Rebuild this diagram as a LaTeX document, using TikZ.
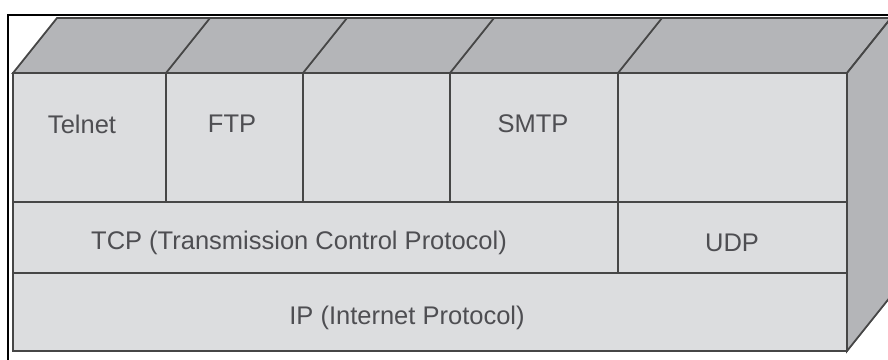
\documentclass[tikz,border=0pt]{standalone}
\usepackage{fontspec}
\setmainfont{Liberation Sans}
\definecolor{frontc}{HTML}{DCDDDF}
\definecolor{sidec}{HTML}{B4B5B8}
\definecolor{edgec}{HTML}{464646}
\definecolor{txtc}{HTML}{4E4E52}
\tikzset{
  edge/.style={draw=edgec, line width=1.8bp, line join=miter},
  lbl/.style={text=txtc, font=\fontsize{25.5bp}{30bp}\selectfont, inner sep=0pt, anchor=center},
  framec/.style={draw=black, line width=2.6bp}
}
\begin{document}
\begin{tikzpicture}[x=1bp,y=-1bp]
\useasboundingbox (0,0) rectangle (888,359);
\begin{scope}
\clip (0,0) rectangle (888,359);
% frame
\draw[framec] (8,400) -- (8,15) -- (950,15);
% top face
\path[edge, fill=sidec] (13,73) -- (57,18) -- (891,18) -- (847,73) -- cycle;
% right face
\path[edge, fill=sidec] (847,73) -- (891,18) -- (891,296) -- (847,351) -- cycle;
% front face
\path[edge, fill=frontc] (13,73) rectangle (847,351);
% top face dividers
\foreach \x in {166,303,450,618} \draw[edge] (\x,73) -- ++(44,-55);
% row separators
\draw[edge] (13,202) -- (847,202);
\draw[edge] (13,273) -- (847,273);
% column separators in application row
\foreach \x in {166,303,450} \draw[edge] (\x,73) -- (\x,202);
\draw[edge] (618,73) -- (618,273);
\end{scope}
% labels
\node[lbl] (telnet) at (82,124) {Telnet};
\node[lbl] (ftp) at (232,124) {FTP};
\node[lbl] (smtp) at (533,124) {SMTP};
\node[lbl] (tcp) at (299,243) {TCP (Transmission Control Protocol)};
\node[lbl] (udp) at (732,243) {UDP};
\node[lbl] (ip) at (407,318) {IP (Internet Protocol)};
\end{tikzpicture}
\end{document}
